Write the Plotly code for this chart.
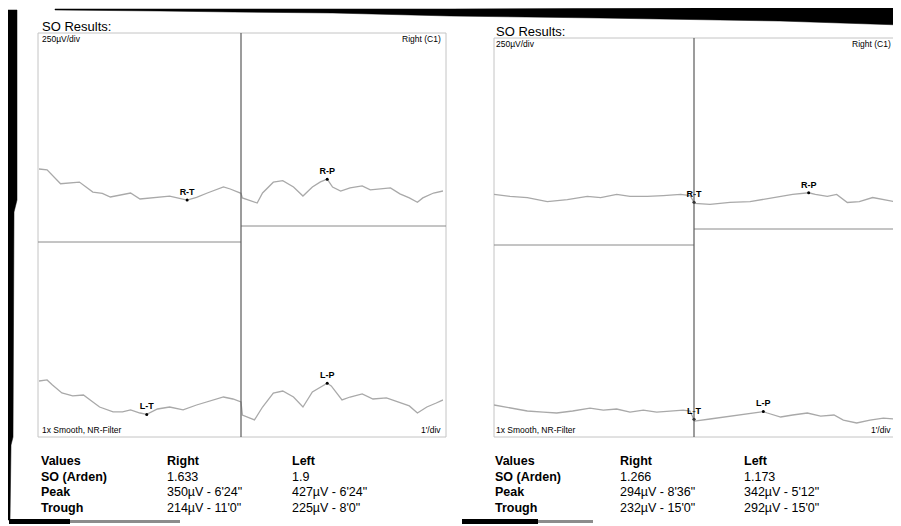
import plotly.graph_objects as go

# The page body has an 8px margin, so the figure is sized to fit the 901x526 window.
OFF = 8
W, H = 901 - OFF, 526 - OFF

# ---------------- data (time in minutes, amplitude in µV) ----------------
# Session 1 (left report)
s1_right_t = [0, 0.6, 1.6, 3.0, 4.0, 4.7, 5.3, 6.0, 6.8, 7.5, 8.2, 9.7, 11.0, 11.7, 12.5, 13.7, 14.2, 15.0,
              15.1, 16.2, 16.6, 17.4, 18.1, 18.9, 19.6, 20.3, 20.9, 21.4, 21.8, 22.4, 23.1, 24.0, 24.6, 25.3,
              26.1, 26.8, 27.5, 28.1, 28.5, 29.3, 30.0]
s1_right_v = [416, 410, 320, 331, 266, 258, 234, 247, 260, 221, 228, 240, 214, 232, 260, 299, 286, 258,
              228, 195, 260, 330, 340, 299, 240, 299, 332, 350, 299, 273, 293, 306, 280, 286,
              293, 254, 228, 200, 228, 260, 273]
s1_left_t = [0, 0.6, 1.0, 1.7, 2.5, 3.3, 4.0, 4.5, 5.5, 6.2, 6.8, 7.5, 8.0, 8.8, 9.7, 10.7, 11.7, 12.7, 13.7,
             14.4, 15.0, 15.1, 16.0, 16.6, 17.4, 18.1, 18.9, 19.6, 20.3, 21.4, 21.7, 22.5, 23.1, 24.0, 24.8,
             25.8, 26.8, 27.5, 28.1, 28.8, 29.5, 30.0]
s1_left_v = [442, 449, 416, 364, 345, 351, 306, 273, 241, 241, 254, 234, 225, 260, 273, 254, 286, 312, 338,
             325, 306, 221, 189, 273, 364, 377, 338, 273, 371, 427, 410, 319, 338, 358, 325,
             332, 299, 280, 234, 273, 299, 319]

# Session 2 (right report)
s2_right_t = [0, 1.2, 2.5, 4.0, 5.5, 7.0, 8.0, 9.2, 10.2, 11.5, 12.7, 14.0, 14.7, 15.0, 15.05, 16.2, 17.7,
              19.2, 20.5, 21.5, 22.4, 23.6, 24.1, 25.0, 25.7, 26.5, 27.4, 28.4, 29.1, 30.0]
s2_right_v = [283, 270, 263, 237, 250, 270, 263, 283, 270, 270, 276, 283, 276, 232, 225, 218, 231,
              237, 257, 270, 283, 294, 283, 270, 283, 231, 237, 263, 250, 237]
s2_left_t = [0, 1.2, 2.5, 3.7, 4.7, 5.9, 7.2, 8.2, 9.2, 10.2, 11.2, 12.2, 13.2, 14.2, 14.7, 15.0, 15.05,
             16.2, 17.2, 18.5, 19.5, 20.2, 20.5, 21.5, 22.4, 23.5, 24.5, 25.5, 26.2, 27.2, 28.2, 29.2, 30.0]
s2_left_v = [385, 365, 346, 339, 333, 346, 365, 352, 359, 339, 352, 339, 346, 352, 346, 292, 280,
             294, 307, 320, 333, 342, 333, 307, 320, 333, 313, 320, 287, 268, 287, 300, 294]

# Peak / trough markers
s1_mark_lbl = ["R-T", "R-P", "L-T", "L-P"]
s1_mark_t = [11.0, 21.4, 8.0, 21.4]
s1_mark_v = [214, 350, 225, 427]
s2_mark_lbl = ["R-T", "R-P", "L-T", "L-P"]
s2_mark_t = [15.0, 23.6, 15.0, 20.2]
s2_mark_v = [232, 294, 292, 342]

# Results tables
row_labels = ["Values", "SO (Arden)", "Peak", "Trough"]
s1_right_col = ["Right", "1.633", "350µV - 6'24\"", "214µV - 11'0\""]
s1_left_col = ["Left", "1.9", "427µV - 6'24\"", "225µV - 8'0\""]
s2_right_col = ["Right", "1.266", "294µV - 8'36\"", "232µV - 15'0\""]
s2_left_col = ["Left", "1.173", "342µV - 5'12\"", "292µV - 15'0\""]

# ---------------- helpers (window pixel -> paper) ----------------
def px(x):
    return (x - OFF) / W

def py(y):
    return 1 - (y - OFF) / H

FONT = "Arial, Liberation Sans, sans-serif"
TRACE_COL = "#a9a9a9"

fig = go.Figure()

def add_trace(t, v, xa, ya):
    fig.add_trace(go.Scatter(x=t, y=v, xaxis=xa, yaxis=ya, mode="lines",
                             line=dict(color=TRACE_COL, width=1.3), hoverinfo="skip",
                             showlegend=False))

add_trace(s1_right_t, s1_right_v, "x", "y")
add_trace(s1_left_t, s1_left_v, "x", "y2")
add_trace(s2_right_t, s2_right_v, "x2", "y3")
add_trace(s2_left_t, s2_left_v, "x2", "y4")

def add_marks(lbls, ts, vs, xa, ya_top, ya_bot):
    for lbl, t, v in zip(lbls, ts, vs):
        ya = ya_top if lbl.startswith("R") else ya_bot
        fig.add_trace(go.Scatter(x=[t], y=[v], xaxis=xa, yaxis=ya, mode="markers+text",
                                 marker=dict(color="black", size=3),
                                 text=["<b>" + lbl + "</b>"], textposition="top center",
                                 textfont=dict(family=FONT, size=9, color="black"),
                                 hoverinfo="skip", showlegend=False, cliponaxis=False))

add_marks(s1_mark_lbl, s1_mark_t, s1_mark_v, "x", "y", "y2")
add_marks(s2_mark_lbl, s2_mark_t, s2_mark_v, "x2", "y3", "y4")

ax_common = dict(visible=False, fixedrange=True)
fig.update_layout(
    width=W, height=H, margin=dict(l=0, r=0, t=0, b=0),
    paper_bgcolor="white", plot_bgcolor="rgba(0,0,0,0)",
    xaxis=dict(domain=[px(39), px(443)], range=[0, 30], anchor="y", **ax_common),
    xaxis2=dict(domain=[px(494), px(894)], range=[0, 30], anchor="y3", **ax_common),
    yaxis=dict(domain=[py(233), py(33)], range=[0, 1300], anchor="x", **ax_common),
    yaxis2=dict(domain=[py(437), py(237)], range=[78, 1378], anchor="x", **ax_common),
    yaxis3=dict(domain=[py(238), py(38)], range=[0, 1300], anchor="x2", **ax_common),
    yaxis4=dict(domain=[py(437), py(237)], range=[177, 1477], anchor="x2", **ax_common),
    showlegend=False,
)

shapes = []
def prect(x0, y0, x1, y1, color, fill=None, width=1):
    shapes.append(dict(type="rect", xref="paper", yref="paper", x0=px(x0), x1=px(x1), y0=py(y0), y1=py(y1),
                       line=dict(color=color, width=width), fillcolor=fill or "rgba(0,0,0,0)", layer="below"))

def pline(x0, y0, x1, y1, color, width=1):
    shapes.append(dict(type="line", xref="paper", yref="paper", x0=px(x0), x1=px(x1), y0=py(y0), y1=py(y1),
                       line=dict(color=color, width=width), layer="below"))

def ppath(pts, color):
    d = "M " + " L ".join(f"{px(a):.5f},{py(b):.5f}" for a, b in pts) + " Z"
    shapes.append(dict(type="path", xref="paper", yref="paper", path=d, fillcolor=color,
                       line=dict(color=color, width=0.5), layer="above"))

# panel boxes
prect(38, 33, 446, 437, "#c4c4c4")
prect(494, 38, 894, 437, "#c4c4c4")
# dark/light dividers (vertical at 15 min)
shapes.append(dict(type="line", xref="x", yref="paper", x0=15, x1=15, y0=py(437), y1=py(33),
                   line=dict(color="#5a5a5a", width=1.2)))
shapes.append(dict(type="line", xref="x2", yref="paper", x0=15, x1=15, y0=py(437), y1=py(38),
                   line=dict(color="#5a5a5a", width=1.2)))
# channel separators
pline(38, 242, 241, 242, "#8a8a8a")
pline(241, 226, 446, 226, "#8a8a8a")
pline(494, 245, 694, 245, "#8a8a8a")
pline(694, 229, 894, 229, "#8a8a8a")

# scan artefacts (black borders)
ppath([(55, 9), (300, 9), (450, 9), (700, 8), (901, 7), (901, 25), (780, 21), (600, 18), (450, 16),
       (333, 13), (233, 12), (160, 11), (55, 10)], "black")
ppath([(8, 10), (17, 10), (17, 200), (14, 212), (13, 437), (11, 445), (10, 520), (8, 520)], "black")
prect(9, 519, 70, 524, "black", "black", 0)
prect(70, 520, 180, 523, "#8c8c8c", "#8c8c8c", 0)
prect(462, 519, 538, 524, "black", "black", 0)
prect(538, 520, 593, 523, "#8c8c8c", "#8c8c8c", 0)

fig.update_layout(shapes=shapes)

ann = []
def text(x, y, s, size, anchor="left", bold=False):
    ann.append(dict(xref="paper", yref="paper", x=px(x), y=py(y), text=("<b>" + s + "</b>") if bold else s,
                    showarrow=False, xanchor=anchor, yanchor="middle",
                    font=dict(family=FONT, size=size, color="black")))

for (bx, by, rx) in [(40, 26, 443), (494, 31, 893)]:
    text(bx, by, "SO Results:", 13)
    text(bx, by + 12.5, "250µV/div", 8.5)
    text(rx, by + 12.5, "Right (C1)", 8.5, anchor="right")
    text(bx, 430, "1x Smooth, NR-Filter", 8.5)
    text(rx, 430, "1'/div", 8.5, anchor="right")

row_y = [461, 477, 492, 508]
for (lx, c1x, c2x, col1, col2) in [(39, 165, 290, s1_right_col, s1_left_col),
                                    (493, 618, 742, s2_right_col, s2_left_col)]:
    for i, yy in enumerate(row_y):
        text(lx, yy, row_labels[i], 12.5, bold=True)
        text(c1x, yy, col1[i], 12.5, bold=(i == 0))
        text(c2x, yy, col2[i], 12.5, bold=(i == 0))

fig.update_layout(annotations=ann)
fig.write_html("out.html")
